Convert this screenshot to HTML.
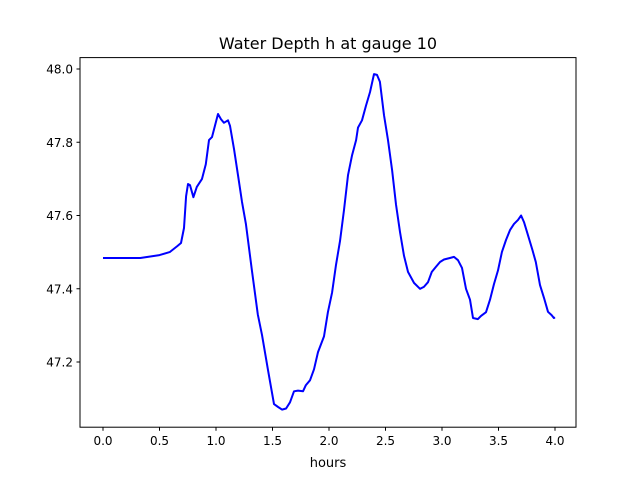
<!DOCTYPE html>
<html><head><meta charset="utf-8"><style>
body{margin:0;background:#fff;}
svg text{font-family:"DejaVu Sans","Liberation Sans",sans-serif;fill:#000;}
</style></head><body>
<svg id="chart" width="640" height="480" viewBox="0 0 640 480" xmlns="http://www.w3.org/2000/svg">
<rect width="640" height="480" fill="#fff"/>
<text x="328" y="49" font-size="16" text-anchor="middle">Water Depth h at gauge 10</text>
<g id="plot"></g>
<rect x="80" y="57.6" width="496" height="369.6" fill="none" stroke="#000" stroke-width="1"/>
<text x="328" y="467" font-size="13" text-anchor="middle">hours</text>
</svg>
<script>
const hours=[0,0.33,0.5,0.59,0.66,0.69,0.717,0.735,0.752,0.77,0.80,0.83,0.876,0.91,0.938,0.965,1.018,1.044,1.07,1.106,1.124,1.16,1.195,1.23,1.265,1.318,1.37,1.407,1.46,1.513,1.55,1.584,1.62,1.655,1.69,1.726,1.77,1.796,1.832,1.867,1.903,1.956,1.99,2.027,2.062,2.097,2.133,2.168,2.204,2.24,2.257,2.292,2.327,2.363,2.398,2.425,2.45,2.487,2.522,2.558,2.593,2.628,2.664,2.699,2.752,2.805,2.84,2.876,2.91,2.947,2.982,3.018,3.07,3.106,3.142,3.177,3.212,3.248,3.274,3.318,3.345,3.389,3.425,3.46,3.496,3.53,3.566,3.602,3.637,3.673,3.70,3.726,3.76,3.80,3.83,3.867,3.903,3.938,3.97,3.99,4.0];
const depth=[47.484,47.484,47.492,47.50,47.517,47.525,47.566,47.653,47.686,47.683,47.65,47.678,47.70,47.74,47.806,47.814,47.877,47.863,47.853,47.86,47.845,47.78,47.71,47.637,47.577,47.45,47.33,47.274,47.178,47.085,47.077,47.07,47.073,47.09,47.12,47.122,47.12,47.137,47.15,47.18,47.227,47.27,47.336,47.39,47.465,47.53,47.615,47.71,47.765,47.806,47.84,47.86,47.90,47.937,47.986,47.984,47.965,47.874,47.806,47.724,47.63,47.555,47.49,47.446,47.416,47.40,47.405,47.418,47.446,47.46,47.473,47.48,47.484,47.487,47.478,47.457,47.40,47.37,47.32,47.317,47.326,47.336,47.37,47.413,47.45,47.50,47.533,47.56,47.577,47.588,47.60,47.582,47.547,47.506,47.473,47.41,47.375,47.337,47.328,47.32,47.322];
const xTicks=[0,0.5,1,1.5,2,2.5,3,3.5,4];
const xTickLabels=["0.0","0.5","1.0","1.5","2.0","2.5","3.0","3.5","4.0"];
const yTicks=[47.2,47.4,47.6,47.8,48.0];
const yTickLabels=["47.2","47.4","47.6","47.8","48.0"];
const X=t=>103+t*113;
const Y=v=>69+(48-v)*366.25;
const NS="http://www.w3.org/2000/svg";
const g=document.getElementById('plot');
function mk(tag,attrs){const e=document.createElementNS(NS,tag);for(const k in attrs)e.setAttribute(k,attrs[k]);return e;}
xTicks.forEach((t,i)=>{
 const l=mk('line',{x1:X(t),x2:X(t),y1:427.2,y2:430.7,stroke:'#000'});
 
 
 g.appendChild(l);
 const tx=mk('text',{x:X(t),y:445,'font-size':'12','text-anchor':'middle'});
 tx.textContent=xTickLabels[i];
 
 
 g.appendChild(tx);
});
yTicks.forEach((v,i)=>{
 const l=mk('line',{x1:76.5,x2:80,y1:Y(v),y2:Y(v),stroke:'#000'});
 
 
 g.appendChild(l);
 const tx=mk('text',{x:73,y:Y(v)+4.5,'font-size':'12','text-anchor':'end'});
 tx.textContent=yTickLabels[i];
 
 
 g.appendChild(tx);
});
const pts=hours.map((t,i)=>X(t).toFixed(1)+','+Y(depth[i]).toFixed(1)).join(' ');
const line=mk('polyline',{points:pts,fill:'none',stroke:'#0000ff','stroke-width':'2','stroke-linejoin':'round'});


g.appendChild(line);
</script>
</body></html>
